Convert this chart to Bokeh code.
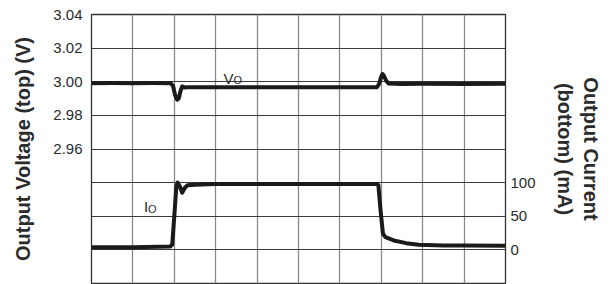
from bokeh.plotting import figure
from bokeh.models import Range1d, LinearAxis, FixedTicker, PrintfTickFormatter, Label
from bokeh.embed import file_html
from bokeh.resources import INLINE

# ---- data (time in grid divisions) ----
vo_t = [0.0, 0.5, 1.0, 1.5, 1.91, 1.97, 2.02, 2.07, 2.11, 2.15, 2.19, 2.25, 2.35,
        3.0, 4.0, 5.0, 6.0, 6.90, 6.95, 7.00, 7.03, 7.07, 7.12, 7.18, 7.5, 8.0, 9.0, 10.0]
vo_v = [2.9991, 2.9992, 2.9991, 2.9992, 2.9991, 2.9975, 2.9920, 2.9893, 2.9902, 2.9945, 2.9972,
        2.9966, 2.9968, 2.9968, 2.9967, 2.9968, 2.9967, 2.9968, 2.9990, 3.0032, 3.0046, 3.0032,
        3.0005, 2.9989, 2.9987, 2.9988, 2.9987, 2.9988]

io_t = [0.0, 1.0, 1.9, 1.95, 2.0, 2.05, 2.08, 2.13, 2.19, 2.25, 2.32, 2.5,
        3.0, 4.0, 5.0, 6.0, 6.90, 6.93, 6.98, 7.04, 7.10, 7.3, 7.6, 7.9, 8.5, 9.0, 10.0]
io_ma = [4, 4, 5, 8, 50, 95, 100, 95, 85, 92, 96, 97,
         98, 98, 98, 98, 98, 96, 60, 24, 19, 14, 10, 7.5, 6.5, 6.5, 6]

x_grid = [0, 1, 2, 3, 4, 5, 6, 7, 8, 9, 10]
v_grid = [2.88, 2.90, 2.92, 2.94, 2.96, 2.98, 3.00, 3.02, 3.04]
v_ticks = [2.96, 2.98, 3.00, 3.02, 3.04]
i_ticks = [0, 50, 100]

FONT = "Liberation Sans"
TXT = "#2b2b2b"

p = figure(width=613, height=284, output_backend="svg", toolbar_location=None,
           x_range=Range1d(0, 10), y_range=Range1d(2.88, 3.04),
           min_border_left=91, min_border_right=108, min_border_top=14, min_border_bottom=1,
           background_fill_color="white", border_fill_color="white")
p.extra_y_ranges = {"current": Range1d(-50, 350)}

p.xaxis.visible = False
p.outline_line_color = "#333333"
p.outline_line_width = 1.3

p.xgrid.ticker = FixedTicker(ticks=x_grid)
p.xgrid.grid_line_color = "#8a8a8a"
p.xgrid.grid_line_width = 1.3
p.ygrid.ticker = FixedTicker(ticks=v_grid)
p.ygrid.grid_line_color = "#3a3a3a"
p.ygrid.grid_line_width = 1.0

ly = p.yaxis[0]
ly.ticker = FixedTicker(ticks=v_ticks)
ly.formatter = PrintfTickFormatter(format="%.2f")
ly.axis_label = "Output Voltage (top) (V)"

ry = LinearAxis(y_range_name="current", ticker=FixedTicker(ticks=i_ticks),
                axis_label="Output Current\n(bottom) (mA)")
p.add_layout(ry, "right")

for ax, std, lstd in ((ly, 9, 16), (ry, 5, 15)):
    ax.axis_line_color = None
    ax.major_tick_line_color = None
    ax.minor_tick_line_color = None
    ax.major_tick_out = 0
    ax.major_tick_in = 0
    ax.minor_tick_out = 0
    ax.minor_tick_in = 0
    ax.major_label_standoff = std
    ax.major_label_text_font = FONT
    ax.major_label_text_font_size = "15px"
    ax.major_label_text_color = TXT
    ax.axis_label_standoff = lstd
    ax.axis_label_text_font = FONT
    ax.axis_label_text_font_size = "20px"
    ax.axis_label_text_font_style = "bold"
    ax.axis_label_text_color = TXT

p.line(vo_t, vo_v, line_color="#1a1a1a", line_width=4, line_join="round")
p.line(io_t, io_ma, y_range_name="current", line_color="#1a1a1a", line_width=4, line_join="round")

p.add_layout(Label(x=3.19, y=3.0018, text="V", text_font=FONT, text_font_size="15px",
                   text_color=TXT, text_baseline="alphabetic"))
p.add_layout(Label(x=3.43, y=3.0009, text="O", text_font=FONT, text_font_size="11px",
                   text_color=TXT, text_baseline="alphabetic"))
p.add_layout(Label(x=1.27, y=64, y_range_name="current", text="I", text_font=FONT,
                   text_font_size="15px", text_color=TXT, text_baseline="alphabetic"))
p.add_layout(Label(x=1.365, y=60.5, y_range_name="current", text="O", text_font=FONT,
                   text_font_size="11px", text_color=TXT, text_baseline="alphabetic"))

open("out.html", "w").write(file_html(p, INLINE))
